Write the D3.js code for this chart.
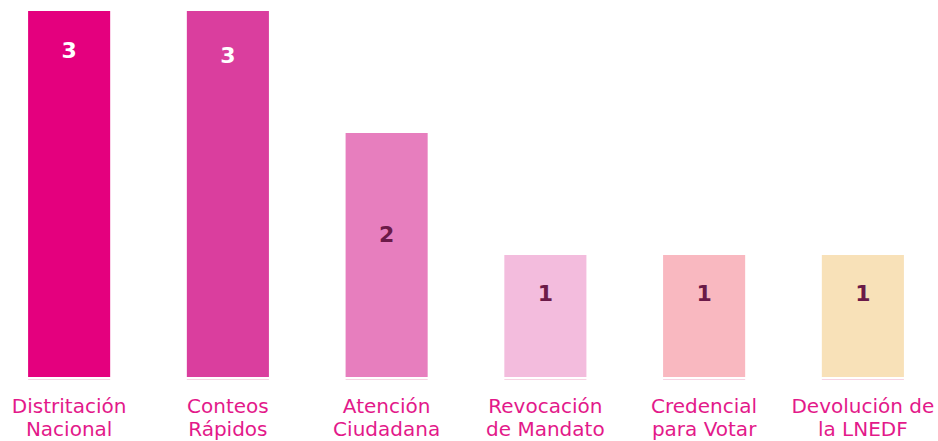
<!DOCTYPE html>
<html lang="es">
  <head>
    <meta charset="UTF-8" />
    <title>Chart</title>
    <script src="https://d3js.org/d3.v7.min.js"></script>
    <style>
      body { margin: 0; background: #fff; }
      svg { display: block; }
    </style>
  </head>
  <body>
    <svg></svg>
    <script>
      // data
      const categories = [
        ["Distritación", "Nacional"],
        ["Conteos", "Rápidos"],
        ["Atención", "Ciudadana"],
        ["Revocación", "de Mandato"],
        ["Credencial", "para Votar"],
        ["Devolución de", "la LNEDF"],
      ];
      const values = [3, 3, 2, 1, 1, 1];
      const colors = ["#e4007e", "#da3e9e", "#e77ebe", "#f3bcdd", "#f9b8c0", "#f8e1b8"];
      const labelColors = ["#ffffff", "#ffffff", "#6b1a48", "#6b1a48", "#6b1a48", "#6b1a48"];
      // how far below the bar top the value label sits, in value units
      const labelDepth = [0.32, 0.36, 0.83, 0.31, 0.31, 0.31];

      const width = 938,
        height = 441;
      const svg = d3.select("svg").attr("width", width).attr("height", height);

      const x = d3
        .scaleBand()
        .domain(d3.range(values.length))
        .range([-10, 942])
        .paddingInner(0.483)
        .paddingOuter(0.24);

      const y = d3.scaleLinear().domain([0, 3]).range([377, 11]);

      const g = svg.append("g");

      g.selectAll("rect.bar")
        .data(values)
        .join("rect")
        .attr("class", "bar")
        .attr("x", (d, i) => x(i))
        .attr("y", (d) => y(d))
        .attr("width", x.bandwidth())
        .attr("height", (d) => y(0) - y(d))
        .attr("fill", (d, i) => colors[i]);

      // thin baseline under each bar
      g.selectAll("line.base")
        .data(values)
        .join("line")
        .attr("class", "base")
        .attr("x1", (d, i) => x(i))
        .attr("x2", (d, i) => x(i) + x.bandwidth())
        .attr("y1", y(0) + 2.5)
        .attr("y2", y(0) + 2.5)
        .attr("stroke", "#f7d3e3")
        .attr("stroke-width", 1.2);

      g.selectAll("text.val")
        .data(values)
        .join("text")
        .attr("class", "val")
        .attr("x", (d, i) => x(i) + x.bandwidth() / 2)
        .attr("y", (d, i) => y(d - labelDepth[i]))
        .attr("dy", "0.36em")
        .attr("text-anchor", "middle")
        .attr("font-family", "'DejaVu Sans', sans-serif")
        .attr("font-weight", "bold")
        .attr("font-size", 22)
        .attr("fill", (d, i) => labelColors[i])
        .text((d) => d);

      const cat = g
        .selectAll("text.cat")
        .data(categories)
        .join("text")
        .attr("class", "cat")
        .attr("x", (d, i) => x(i) + x.bandwidth() / 2)
        .attr("y", 413)
        .attr("text-anchor", "middle")
        .attr("font-family", "'DejaVu Sans', sans-serif")
        .attr("font-size", 20)
        .attr("fill", "#e3198a");

      cat
        .selectAll("tspan")
        .data((d) => d)
        .join("tspan")
        .attr("x", function () {
          return this.parentNode.getAttribute("x");
        })
        .attr("dy", (d, i) => (i === 0 ? 0 : 23))
        .text((d) => d);
    </script>
  </body>
</html>
